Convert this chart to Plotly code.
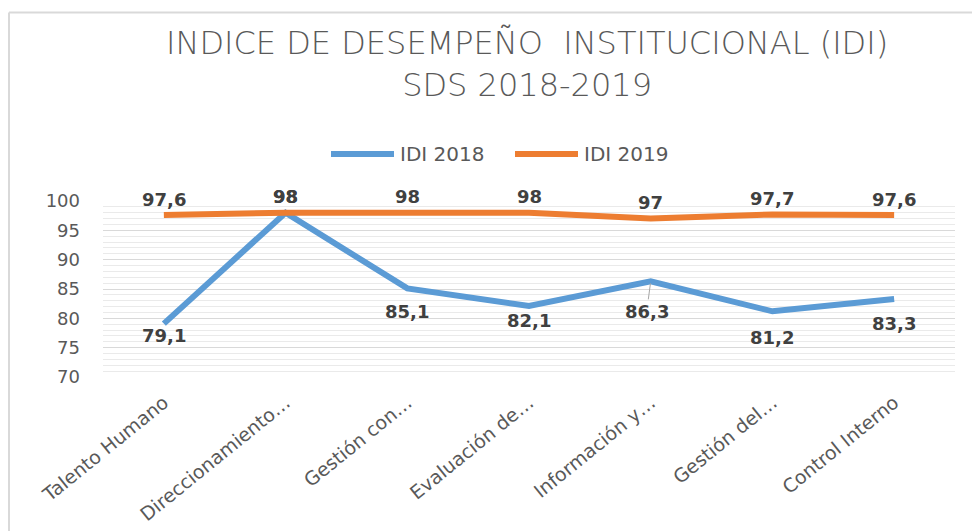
import plotly.graph_objects as go

# Categories and scores
categorias = [
    "Talento Humano",
    "Direccionamiento…",
    "Gestión con…",
    "Evaluación de…",
    "Información y…",
    "Gestión del…",
    "Control Interno",
]
idi_2018 = [79.1, 98, 85.1, 82.1, 86.3, 81.2, 83.3]
idi_2019 = [97.6, 98, 98, 98, 97, 97.7, 97.6]
series = ["IDI 2018", "IDI 2019"]

# Vertical offset (px) of each value label relative to its point
shift_2018 = [-12, 16, -23, -14, -30, -26, -25]
shift_2019 = [16, 16, 16, 16, 16, 16, 16]

AZUL = "#5B9BD5"
NARANJA = "#ED7D31"
GRIS = "#595959"
ETIQUETA = "#404040"
MARCO = "#D9D9D9"

# Plot-area geometry in pixels
L, R, T, B = 103, 17, 201, 154
W, H = 972 - L - R, 531 - T - B


def px_x(p):
    return (p - L) / W


def px_y(p):
    return (531 - B - p) / H


def fmt(v):
    return f"{v:g}".replace(".", ",")


fig = go.Figure()
for nombre, valores, color in zip(series, (idi_2018, idi_2019), (AZUL, NARANJA)):
    fig.add_trace(go.Scatter(x=categorias, y=valores, mode="lines", name=nombre,
                             line=dict(color=color, width=6), showlegend=False))

anotaciones = []
for serie, shifts in ((idi_2018, shift_2018), (idi_2019, shift_2019)):
    for c, v, s in zip(categorias, serie, shifts):
        a = dict(x=c, y=v, text=fmt(v), showarrow=False, yshift=s,
                 font=dict(family="DejaVu Sans", size=18, color=ETIQUETA, weight="bold"))
        if serie is idi_2018 and v == 86.3:
            a.update(showarrow=True, ax=-4, ay=-s, yshift=0, arrowhead=0,
                     arrowwidth=1, arrowcolor="#A6A6A6", standoff=2)
        anotaciones.append(a)

# Two-line title
anotaciones.append(dict(
    x=px_x(527), y=px_y(22), xref="paper", yref="paper", xanchor="center", yanchor="top",
    showarrow=False, align="center",
    text="INDICE DE DESEMPEÑO  INSTITUCIONAL (IDI)<br>SDS 2018-2019",
    font=dict(family="DejaVu Sans", size=32, color=GRIS, weight=200),
))

# Chart frame and legend (line sample + series name)
forma = [
    dict(type="line", xref="paper", yref="paper", x0=px_x(9), x1=px_x(9),
         y0=px_y(12.5), y1=px_y(540), line=dict(color=MARCO, width=2)),
    dict(type="line", xref="paper", yref="paper", x0=px_x(9), x1=px_x(980),
         y0=px_y(12.5), y1=px_y(12.5), line=dict(color=MARCO, width=2)),
]
for nombre, color, x0, x1 in ((series[0], AZUL, 331, 394), (series[1], NARANJA, 515, 578)):
    forma.append(dict(type="line", xref="paper", yref="paper", x0=px_x(x0), x1=px_x(x1),
                      y0=px_y(154), y1=px_y(154), line=dict(color=color, width=6)))
    anotaciones.append(dict(x=px_x(x1 + 4), y=px_y(154), xref="paper", yref="paper",
                            xanchor="left", yanchor="middle", showarrow=False, text=nombre,
                            font=dict(family="DejaVu Sans", size=20, color=GRIS)))

fig.update_layout(
    width=972, height=531,
    margin=dict(l=L, r=R, t=T, b=B, autoexpand=False),
    paper_bgcolor="white", plot_bgcolor="white",
    showlegend=False,
    annotations=anotaciones,
    shapes=forma,
)

fig.update_xaxes(
    type="category", range=[-0.5, 6.5], showgrid=False, showline=False, ticks="",
    tickangle=-39, tickfont=dict(family="DejaVu Sans", size=19, color=GRIS),
    ticklabelstandoff=10, automargin=False,
)
fig.update_yaxes(
    range=[70, 100], dtick=5, tick0=70, showline=False, ticks="", zeroline=False,
    gridcolor="#D9D9D9", gridwidth=1,
    minor=dict(dtick=1, showgrid=True, gridcolor="#EAEAEA", gridwidth=1),
    tickfont=dict(family="DejaVu Sans", size=18, color=GRIS), ticklabelstandoff=22,
    automargin=False,
)

fig.write_html("out.html")
